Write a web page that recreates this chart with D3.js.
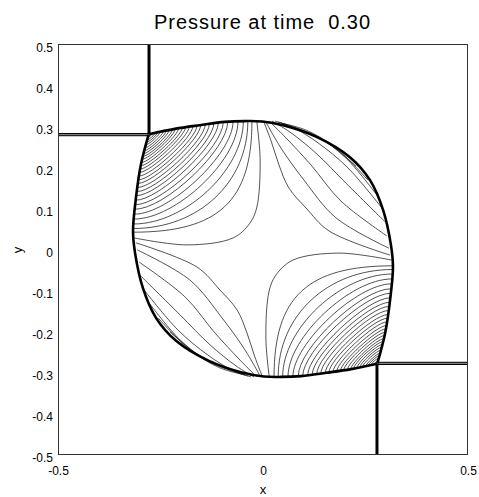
<!DOCTYPE html>
<html><head><meta charset="utf-8">
<script src="https://cdn.jsdelivr.net/npm/d3@7"></script>
<style>
body{margin:0;background:#fff}
svg{display:block}
text{font-family:"Liberation Sans",Arial,Helvetica,sans-serif;fill:#000}
</style>
</head><body>
<svg id="chart" width="479" height="497"></svg>
<script>
// ---------- data ----------
const titleText = "Pressure at time  0.30";
const xDomain = [-0.5, 0.5];
const yDomain = [-0.5, 0.5];
const xTicks = [-0.5, 0, 0.5];
const yTicks = [-0.5, -0.4, -0.3, -0.2, -0.1, 0, 0.1, 0.2, 0.3, 0.4, 0.5];

// shock front: upper-left triple point -> over the top -> down the right -> lower-right triple point
const shockArc = [[-0.278,0.280],[-0.215,0.293],[-0.154,0.302],[-0.093,0.310],[-0.044,0.312],
  [-0.002,0.311],[0.049,0.302],[0.132,0.273],[0.212,0.224],[0.261,0.168],[0.293,0.095],
  [0.312,0.010],[0.317,-0.044],[0.310,-0.124],[0.298,-0.205],[0.279,-0.279]];

// slip lines leaving the upper-left triple point
const slipVertical = [[-0.278,0.280],[-0.278,0.500]];
const slipHorizontalA = [[-0.500,0.2810],[-0.279,0.2810]];
const slipHorizontalB = [[-0.500,0.2765],[-0.279,0.2765]];

// upper-left fan of contours: start height on the left front, end x on the top front, bend
const ulFanLeftY = [0.272,0.266,0.260,0.254,0.247,0.240,0.233,0.226,0.219,0.211,0.203,0.195,0.187,0.178,0.169,0.160,0.150,0.140,0.130,0.119,0.108,0.097,0.085,0.073,0.061,0.050,0.041];
const ulFanTopX  = [-0.270,-0.263,-0.257,-0.251,-0.243,-0.236,-0.229,-0.221,-0.214,-0.206,-0.197,-0.189,-0.180,-0.171,-0.161,-0.152,-0.141,-0.131,-0.120,-0.109,-0.097,-0.086,-0.073,-0.061,-0.048,-0.037,-0.027];
const ulFanBend  = [0.2,0.2,0.2,0.2,0.2,0.2,0.2,0.2,0.2,0.2,0.2,0.2,0.21,0.22,0.23,0.24,0.25,0.26,0.27,0.28,0.30,0.32,0.35,0.40,0.47,0.57,0.72];

// contour closest to the saddle on the upper-left side
const ulSaddle = [[-0.314,0.027],[-0.185,0.010],[-0.073,0.027],[-0.032,0.063],[-0.015,0.102],[-0.007,0.217],[-0.015,0.310]];

// lower-left contours: left front -> bottom front
const llA = [[-0.310,0.015],[-0.161,-0.044],[-0.105,-0.100],[-0.063,-0.149],[-0.039,-0.205],[-0.020,-0.263],[-0.002,-0.310]];
const llB = [[-0.307,-0.002],[-0.178,-0.076],[-0.100,-0.168],[-0.044,-0.246],[-0.007,-0.310]];
const llC = [[-0.302,-0.032],[-0.190,-0.117],[-0.117,-0.205],[-0.056,-0.271],[-0.015,-0.312]];
const llD = [[-0.298,-0.066],[-0.202,-0.161],[-0.129,-0.234],[-0.066,-0.285],[-0.022,-0.312]];
const llE = [[-0.290,-0.100],[-0.207,-0.198],[-0.134,-0.259],[-0.076,-0.295],[-0.029,-0.312]];
const llF = [[-0.276,-0.134],[-0.202,-0.222],[-0.129,-0.276],[-0.037,-0.310]];
const llG = [[-0.256,-0.168],[-0.178,-0.246],[-0.105,-0.290],[-0.044,-0.307]];
const llH = [[-0.227,-0.202],[-0.154,-0.261],[-0.051,-0.305]];
const llLines = [llA, llB, llC, llD, llE, llF, llG, llH];

// ---------- drawing ----------
const plot = {left: 58, right: 468, top: 44, bottom: 454};
const sx = d3.scaleLinear().domain(xDomain).range([plot.left, plot.right]);
const sy = d3.scaleLinear().domain(yDomain).range([plot.bottom, plot.top]);
const svg = d3.select("#chart");

// the solution is point-symmetric about the origin: lower-right half = rotated upper-left half
const rot = pts => pts.map(([x, y]) => [-x, -y]);
const frontB = rot(shockArc);

function xOnLeftFront(y) {
  for (let i = frontB.length - 1; i > 0; i--) {
    const [x1, y1] = frontB[i], [x0, y0] = frontB[i - 1];
    if (y <= y1 && y >= y0) { const t = (y - y0) / (y1 - y0); return x0 + t * (x1 - x0); }
  }
  return frontB[frontB.length - 1][0];
}
function yOnTopFront(x) {
  for (let i = 0; i < shockArc.length - 1; i++) {
    const [x0, y0] = shockArc[i], [x1, y1] = shockArc[i + 1];
    if (x >= x0 && x <= x1) { const t = (x - x0) / (x1 - x0); return y0 + t * (y1 - y0); }
  }
  return shockArc[0][1];
}

svg.append("defs").append("clipPath").attr("id", "clip")
  .append("rect").attr("x", plot.left).attr("y", plot.top)
  .attr("width", plot.right - plot.left).attr("height", plot.bottom - plot.top);

const g = svg.append("g").attr("clip-path", "url(#clip)");
const smooth = d3.line().x(d => sx(d[0])).y(d => sy(d[1])).curve(d3.curveCatmullRom.alpha(0.5));
const straight = d3.line().x(d => sx(d[0])).y(d => sy(d[1]));

const thin = {stroke: "#1a1a1a", width: 0.75};

function fanPath(L, T, K, b) {
  const p = d3.path();
  p.moveTo(sx(L[0]), sy(L[1]));
  p.bezierCurveTo(sx(L[0] + b * (K[0] - L[0])), sy(L[1] + b * (K[1] - L[1])),
                  sx(T[0] + b * (K[0] - T[0])), sy(T[1] + b * (K[1] - T[1])),
                  sx(T[0]), sy(T[1]));
  return p.toString();
}

const ulFan = ulFanLeftY.map((yl, i) => {
  const xt = ulFanTopX[i];
  return {L: [xOnLeftFront(yl), yl], T: [xt, yOnTopFront(xt)], K: [xt, yl], b: ulFanBend[i]};
});

[false, true].forEach(flip => {
  const f = p => flip ? [-p[0], -p[1]] : p;
  const fl = pts => flip ? rot(pts) : pts;
  ulFan.forEach(d => {
    g.append("path").attr("d", fanPath(f(d.L), f(d.T), f(d.K), d.b))
      .attr("fill", "none").attr("stroke", thin.stroke).attr("stroke-width", thin.width);
  });
  g.append("path").attr("d", smooth(fl(ulSaddle)))
    .attr("fill", "none").attr("stroke", thin.stroke).attr("stroke-width", thin.width);
  llLines.forEach(l => {
    g.append("path").attr("d", smooth(fl(l)))
      .attr("fill", "none").attr("stroke", thin.stroke).attr("stroke-width", thin.width);
  });
  g.append("path").attr("d", straight(fl(slipVertical))).attr("stroke", "#000").attr("stroke-width", 3);
  g.append("path").attr("d", straight(fl(slipHorizontalA))).attr("stroke", "#000").attr("stroke-width", 1.6);
  g.append("path").attr("d", straight(fl(slipHorizontalB))).attr("stroke", "#222").attr("stroke-width", 1.1);
});

// shock fronts
g.append("path").attr("d", smooth(shockArc)).attr("fill", "none").attr("stroke", "#000").attr("stroke-width", 2.6);
g.append("path").attr("d", smooth(frontB)).attr("fill", "none").attr("stroke", "#000").attr("stroke-width", 2.6);

// frame
svg.append("rect").attr("x", plot.left + 0.5).attr("y", plot.top + 0.5)
  .attr("width", plot.right - plot.left - 1).attr("height", plot.bottom - plot.top)
  .attr("fill", "none").attr("stroke", "#333").attr("stroke-width", 1);

// axes
const fmt = d => String(d);
const ax = svg.append("g").attr("transform", `translate(0,${plot.bottom})`)
  .call(d3.axisBottom(sx).tickValues(xTicks).tickSize(0).tickPadding(12).tickFormat(fmt));
const ay = svg.append("g").attr("transform", `translate(${plot.left},0)`)
  .call(d3.axisLeft(sy).tickValues(yTicks).tickSize(0).tickPadding(5).tickFormat(fmt));
[ax, ay].forEach(a => {
  a.select(".domain").remove();
  a.selectAll("text").attr("font-size", 12).attr("font-family", "Liberation Sans, Arial, sans-serif").attr("fill", "#000");
});
ay.selectAll("text").attr("dy", "0.66em");

svg.append("text").attr("x", 262).attr("y", 29).attr("text-anchor", "middle")
  .attr("font-size", 20).attr("textLength", 216).attr("lengthAdjust", "spacing")
  .style("white-space", "pre").text(titleText);
svg.append("text").attr("x", 263).attr("y", 494).attr("text-anchor", "middle")
  .attr("font-size", 13).text("x");
svg.append("text").attr("transform", "translate(22,250) rotate(-90)").attr("text-anchor", "middle")
  .attr("font-size", 13).text("y");
</script>
</body></html>
